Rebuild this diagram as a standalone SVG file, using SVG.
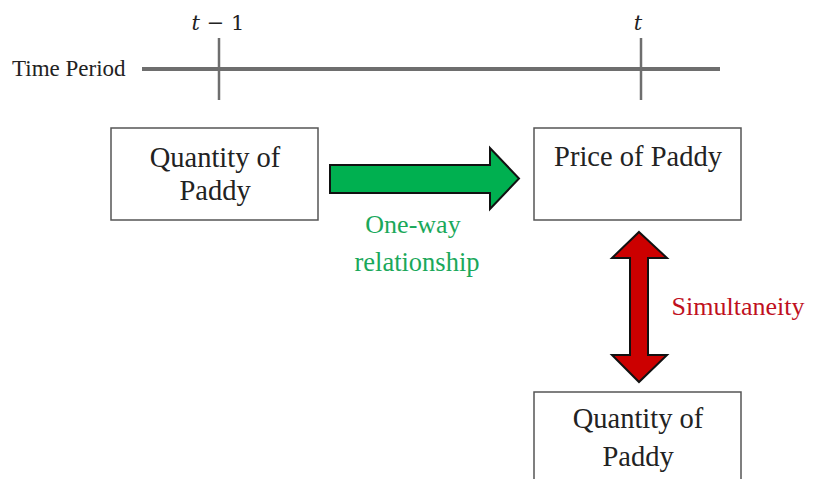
<svg xmlns="http://www.w3.org/2000/svg" width="813" height="479" viewBox="0 0 813 479">
<style>
.box{fill:#fff;stroke:#555;stroke-width:1.5}
.lbl{font-family:"Liberation Serif","Times New Roman",serif;font-size:28.5px;fill:#222;text-anchor:middle}
.math{font-family:"DejaVu Serif","Liberation Serif",serif;font-size:21px;fill:#222;text-anchor:middle}
.tl{stroke:#6e6e6e;fill:none}
</style>
<rect width="813" height="479" fill="#fff"/>
<g id="timeline">
<text x="12" y="76" font-family="Liberation Serif, serif" font-size="23" fill="#222">Time Period</text>
<line class="tl" x1="142" y1="69" x2="720" y2="69" stroke-width="4"/>
<line class="tl" x1="219" y1="38" x2="219" y2="100" stroke-width="2.5"/>
<line class="tl" x1="641" y1="38" x2="641" y2="100" stroke-width="2.5"/>
<text class="math" x="218" y="30"><tspan font-style="italic">t</tspan> − 1</text>
<text class="math" x="638" y="30" font-style="italic">t</text>
</g>
<g id="qty1">
<rect class="box" x="111" y="128" width="207" height="92"/>
<text class="lbl" x="215" y="167">Quantity of</text>
<text class="lbl" x="215" y="200">Paddy</text>
</g>
<g id="price">
<rect class="box" x="534" y="128" width="207" height="92"/>
<text class="lbl" x="638" y="166">Price of Paddy</text>
</g>
<g id="qty2">
<rect class="box" x="534" y="392" width="207" height="100"/>
<text class="lbl" x="638" y="428">Quantity of</text>
<text class="lbl" x="638" y="466">Paddy</text>
</g>
<g id="connectors">
<polygon points="330,165 490,165 490,148 519,178.5 490,209 490,193 330,193" fill="#00b050" stroke="#111" stroke-width="2" stroke-linejoin="miter"/>
<polygon points="639,232 667,258 648,258 648,355 667,355 639,382 612,355 630,355 630,258 612,258" fill="#cc0000" stroke="#111" stroke-width="2"/>
<text x="413" y="233" font-family="Liberation Serif, serif" font-size="26" fill="#1aa85a" text-anchor="middle">One-way</text>
<text x="417" y="271" font-family="Liberation Serif, serif" font-size="26.5" fill="#1aa85a" text-anchor="middle">relationship</text>
<text x="738" y="315" font-family="Liberation Serif, serif" font-size="26" fill="#c0101e" text-anchor="middle">Simultaneity</text>
</g>
</svg>
